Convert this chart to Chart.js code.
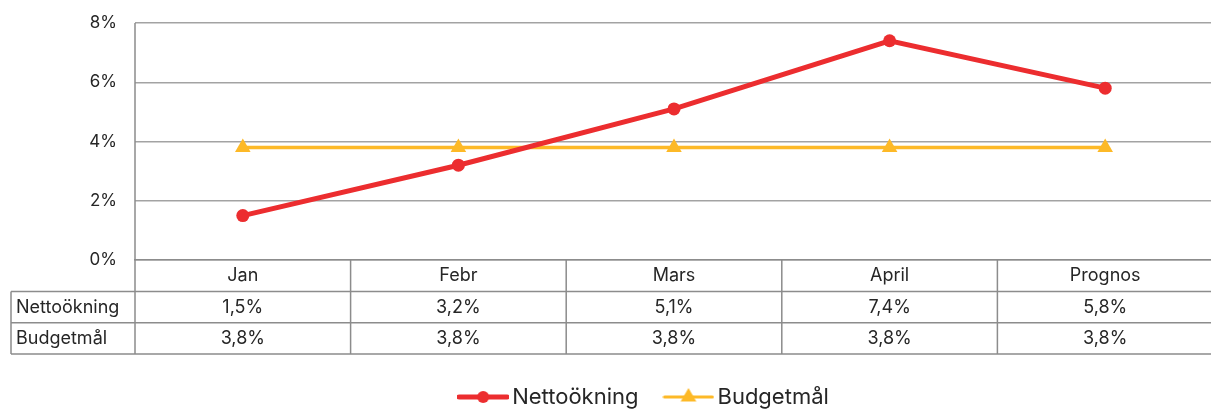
<!DOCTYPE html>
<html>
<head>
<meta charset="utf-8">
<script src="https://cdn.jsdelivr.net/npm/chart.js@4.4.1/dist/chart.umd.min.js"></script>
<style>
  html, body { margin: 0; padding: 0; overflow: hidden; background: #fff; }
  #wrap { width: 1222px; height: 418px; position: relative; }
</style>
</head>
<body>
<div id="wrap"><canvas id="c"></canvas></div>
<script>
const categories = ['Jan', 'Febr', 'Mars', 'April', 'Prognos'];
const nettookning = [1.5, 3.2, 5.1, 7.4, 5.8];
const budgetmal = [3.8, 3.8, 3.8, 3.8, 3.8];
const seriesNames = ['Nettoökning', 'Budgetmål'];
const yTicks = [0, 2, 4, 6, 8];

const RED = '#EC2D2F';
const YEL = '#FDB927';
const FONT = 'Inter, "Open Sans", sans-serif';
const TEXT = '#262626';
const TABLE_LINE = '#8c8c8c';
const GRID = '#a3a3a3';

function fmt(v) { return v.toFixed(1).replace('.', ',') + '%'; }

function legendImage(color, style, lw, r) {
  const cv = document.createElement('canvas');
  cv.width = 52; cv.height = 22;
  const g = cv.getContext('2d');
  g.strokeStyle = color; g.fillStyle = color; g.lineWidth = lw; g.lineCap = 'round';
  g.beginPath(); g.moveTo(2, 11); g.lineTo(50, 11); g.stroke();
  g.beginPath();
  if (style === 'circle') {
    g.arc(26, 11, r, 0, Math.PI * 2);
  } else {
    g.moveTo(26, 11 - r); g.lineTo(26 + r * 0.87, 11 + r * 0.5); g.lineTo(26 - r * 0.87, 11 + r * 0.5); g.closePath();
  }
  g.fill();
  return cv;
}
const legendImgs = [legendImage(RED, 'circle', 5, 6), legendImage(YEL, 'triangle', 3, 9)];

const shiftLegend = {
  id: 'shiftLegend',
  afterLayout(chart) {
    if (chart.legend) { chart.legend.left += 36; chart.legend.right += 36; }
  }
};

const tablePlugin = {
  id: 'dataTable',
  afterDraw(chart) {
    const {ctx, chartArea, scales: {x}} = chart;
    const rows = [nettookning, budgetmal];
    const rowH = 31.3;
    const top = chartArea.bottom;
    const row1 = top + 31.5;
    const bottom = row1 + rowH * 2;
    const labelLeft = 11;
    const step = x.getPixelForValue(1) - x.getPixelForValue(0);
    ctx.save();
    ctx.strokeStyle = TABLE_LINE;
    ctx.lineWidth = 1.5;
    ctx.beginPath();
    ctx.moveTo(chartArea.left, chartArea.top); ctx.lineTo(chartArea.left, bottom);
    ctx.moveTo(labelLeft, row1); ctx.lineTo(chartArea.right, row1);
    ctx.moveTo(labelLeft, row1 + rowH); ctx.lineTo(chartArea.right, row1 + rowH);
    ctx.moveTo(labelLeft, bottom); ctx.lineTo(chartArea.right, bottom);
    ctx.moveTo(labelLeft, row1); ctx.lineTo(labelLeft, bottom);
    for (let i = 0; i < categories.length; i++) {
      const bx = x.getPixelForValue(i) + step / 2;
      ctx.moveTo(bx, top); ctx.lineTo(bx, bottom);
    }
    ctx.stroke();
    ctx.fillStyle = TEXT;
    ctx.font = '18px ' + FONT;
    ctx.textBaseline = 'middle';
    rows.forEach((vals, r) => {
      const cy = row1 + rowH * r + rowH / 2;
      ctx.textAlign = 'left';
      ctx.fillText(seriesNames[r], 16, cy);
      ctx.textAlign = 'center';
      vals.forEach((v, i) => ctx.fillText(fmt(v), x.getPixelForValue(i), cy));
    });
    ctx.restore();
  }
};

new Chart(document.getElementById('c'), {
  type: 'line',
  data: {
    labels: categories,
    datasets: [
      {
        label: seriesNames[0], data: nettookning,
        borderColor: RED, backgroundColor: RED, borderWidth: 5,
        pointStyle: 'circle', pointRadius: 6.5, pointHoverRadius: 6.5,
        pointBorderWidth: 0, tension: 0
      },
      {
        label: seriesNames[1], data: budgetmal,
        borderColor: YEL, backgroundColor: YEL, borderWidth: 3.5,
        pointStyle: 'triangle', pointRadius: 9, pointHoverRadius: 9,
        pointBorderWidth: 0, tension: 0
      }
    ]
  },
  options: {
    responsive: true,
    maintainAspectRatio: false,
    animation: false,
    layout: { padding: { top: 23, left: 0, right: 0, bottom: 0 } },
    plugins: {
      tooltip: { enabled: false },
      legend: {
        position: 'bottom',
        labels: {
          usePointStyle: true,
          pointStyleWidth: 36,
          padding: 32,
          color: TEXT,
          font: { family: FONT, size: 22 },
          generateLabels(chart) {
            return chart.data.datasets.map((d, i) => ({
              text: d.label, pointStyle: legendImgs[i], fillStyle: d.borderColor,
              strokeStyle: d.borderColor, lineWidth: 0, hidden: false, datasetIndex: i,
              fontColor: TEXT
            }));
          }
        }
      }
    },
    scales: {
      x: {
        offset: true,
        grid: { display: false, drawTicks: false },
        border: { display: true, color: TABLE_LINE, width: 1.5 },
        ticks: { color: TEXT, font: { family: FONT, size: 18 }, padding: 5, maxRotation: 0 },
        afterFit(scale) { scale.height = 94; }
      },
      y: {
        min: 0, max: 8,
        afterBuildTicks(scale) { scale.ticks = yTicks.map(v => ({ value: v })); },
        grid: { color: GRID, lineWidth: 1.5, drawTicks: false },
        border: { display: false },
        ticks: {
          color: TEXT, font: { family: FONT, size: 17 }, padding: 18,
          callback: v => v + '%'
        },
        afterFit(scale) { scale.width = 135; scale.paddingTop = 0; scale.paddingBottom = 0; }
      }
    }
  },
  plugins: [tablePlugin, shiftLegend]
});
</script>
</body>
</html>
